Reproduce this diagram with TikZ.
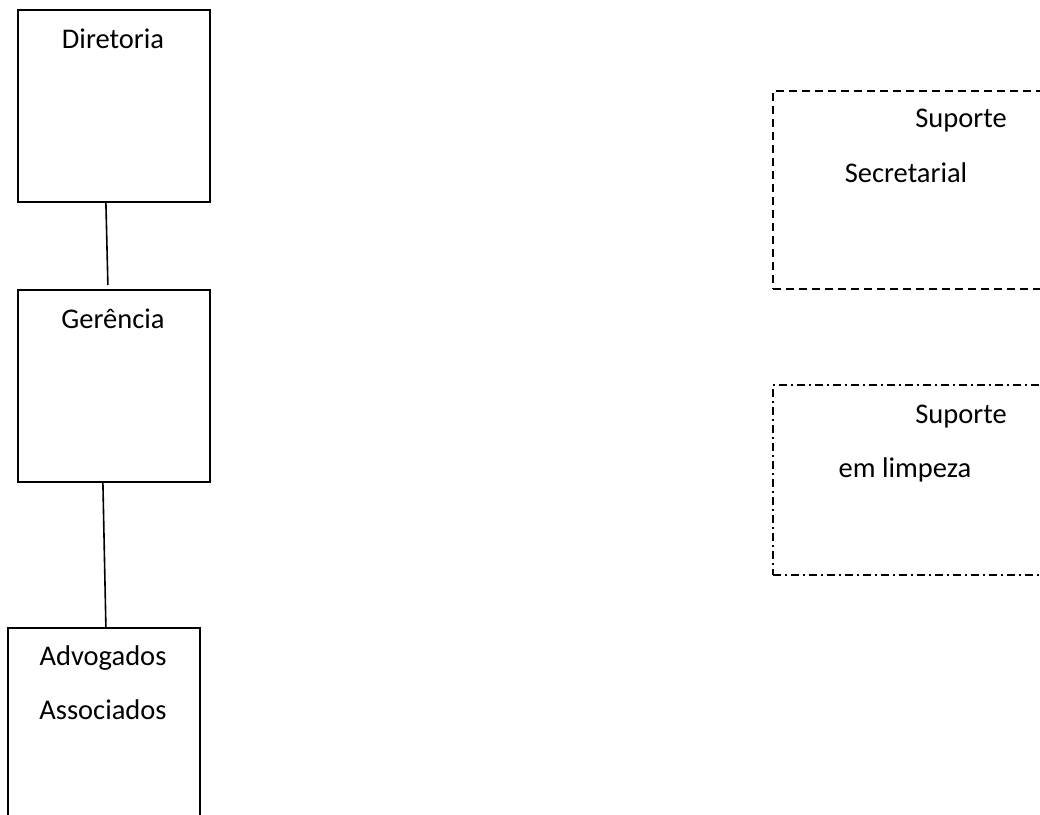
\documentclass[tikz,border=0pt]{standalone}
\usepackage{fontspec}
\setmainfont{Carlito}
\usepackage{tikz}
\usetikzlibrary{calc, positioning}
\tikzstyle{unit}=[draw, line width=1.8pt, rectangle, anchor=north west,
minimum width=192pt, minimum height=192pt, inner sep=0pt]
\tikzstyle{support}=[unit, minimum width=290pt, minimum height=198pt]
\tikzstyle{caption}=[anchor=base, inner sep=0pt, font=\fontsize{28.5}{34}\selectfont]

\begin{document}
\begin{tikzpicture}[x=1pt,y=-1pt,line width=1.6pt]
      \useasboundingbox (0,0) rectangle (1040,814);
      % hierarchy
      \node [unit] (dir) at (17,9) {};
      \node [unit] (ger) at (17,289) {};
      \node [unit] (adv) at (7,627) {};
      \node [caption] (dirtext) at (113,48) {Diretoria};
      \node [caption] (gertext) at (113,328) {Gerência};
      \node [caption] (advtext) at (103,665) {Advogados};
      \node [caption] (asstext) at (103,719) {Associados};
      \draw ([xshift=-8pt]dir.south) -- ([xshift=-6pt,yshift=4pt]ger.north);
      \draw ([xshift=-11pt]ger.south) -- ([xshift=2pt]adv.north);
      % support boxes
      \node [support, dash pattern=on 8pt off 5pt] (sec) at (772,90) {};
      \node [support, minimum height=190pt, dash pattern=on 8pt off 4pt on 2pt off 4pt] (limp) at (772,384) {};
      \node [caption] (sectop) at (961,127) {Suporte};
      \node [caption] (secbot) at (906,182) {Secretarial};
      \node [caption] (limptop) at (961,423) {Suporte};
      \node [caption] (limpbot) at (905,477) {em limpeza};
  \end{tikzpicture}
\end{document}
